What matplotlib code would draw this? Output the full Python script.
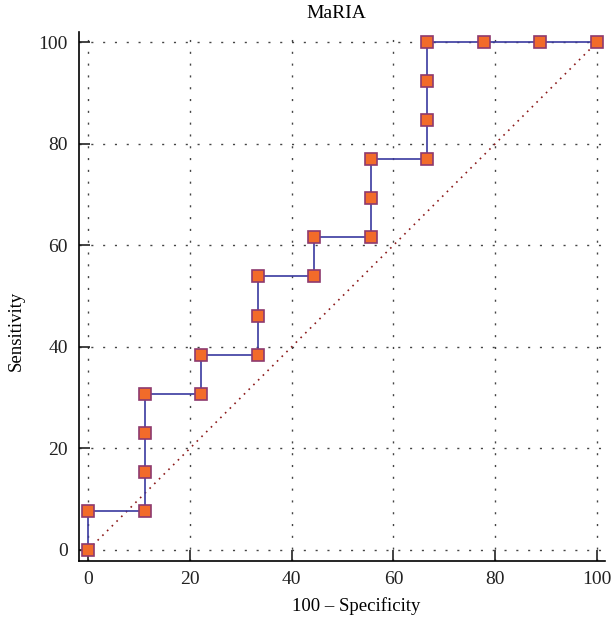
import matplotlib
matplotlib.use("Agg")
import matplotlib.pyplot as plt

x_vals = [0, 0, 11.11, 11.11, 11.11, 11.11, 22.22, 22.22, 33.33, 33.33, 33.33,
          44.44, 44.44, 55.56, 55.56, 55.56, 66.67, 66.67, 66.67, 66.67, 77.78, 88.89, 100]
y_vals = [0, 7.69, 7.69, 15.38, 23.08, 30.77, 30.77, 38.46, 38.46, 46.15, 53.85,
          53.85, 61.54, 61.54, 69.23, 76.92, 76.92, 84.62, 92.31, 100, 100, 100, 100]
ticks = [0, 20, 40, 60, 80, 100]

plt.rcParams['font.family'] = ['Liberation Serif', 'DejaVu Serif']

fig = plt.figure(figsize=(6.14, 6.26), dpi=100)
ax = fig.add_axes([0.1287, 0.1038, 0.856, 0.845])

ax.plot([0, 100], [0, 100], linestyle=(0, (1, 3)), color='#8B1A1A', lw=1.2, zorder=2)
ax.plot(x_vals, y_vals, color='#3A3AA0', lw=1.2, zorder=3,
        marker='s', markersize=9, markerfacecolor='#F26B2A',
        markeredgecolor='#8E3A6E', markeredgewidth=1.2)

ax.set_xlim(-1.8, 101.5)
ax.set_ylim(-2.2, 102)
ax.set_xticks(ticks)
ax.set_yticks(ticks)
ax.grid(True, linestyle=(0, (1.5, 7)), color='#444444', lw=1.0)
for s in ['top', 'right']:
    ax.spines[s].set_visible(False)
for s in ['left', 'bottom']:
    ax.spines[s].set_linewidth(1.2)
ax.tick_params(direction='in', length=8, width=1.2, labelsize=14, colors='#222222')
ax.tick_params(axis='y', pad=8)
ax.tick_params(axis='x', pad=7)
ax.set_xlabel('100 – Specificity', fontsize=13.5)
ax.set_ylabel('Sensitivity', fontsize=13.5)
ax.xaxis.set_label_coords(0.527, -0.068)
ax.yaxis.set_label_coords(-0.104, 0.435)
ax.set_title('MaRIA', fontsize=14, pad=10, x=0.49)

fig.savefig('out.png', dpi=100)
